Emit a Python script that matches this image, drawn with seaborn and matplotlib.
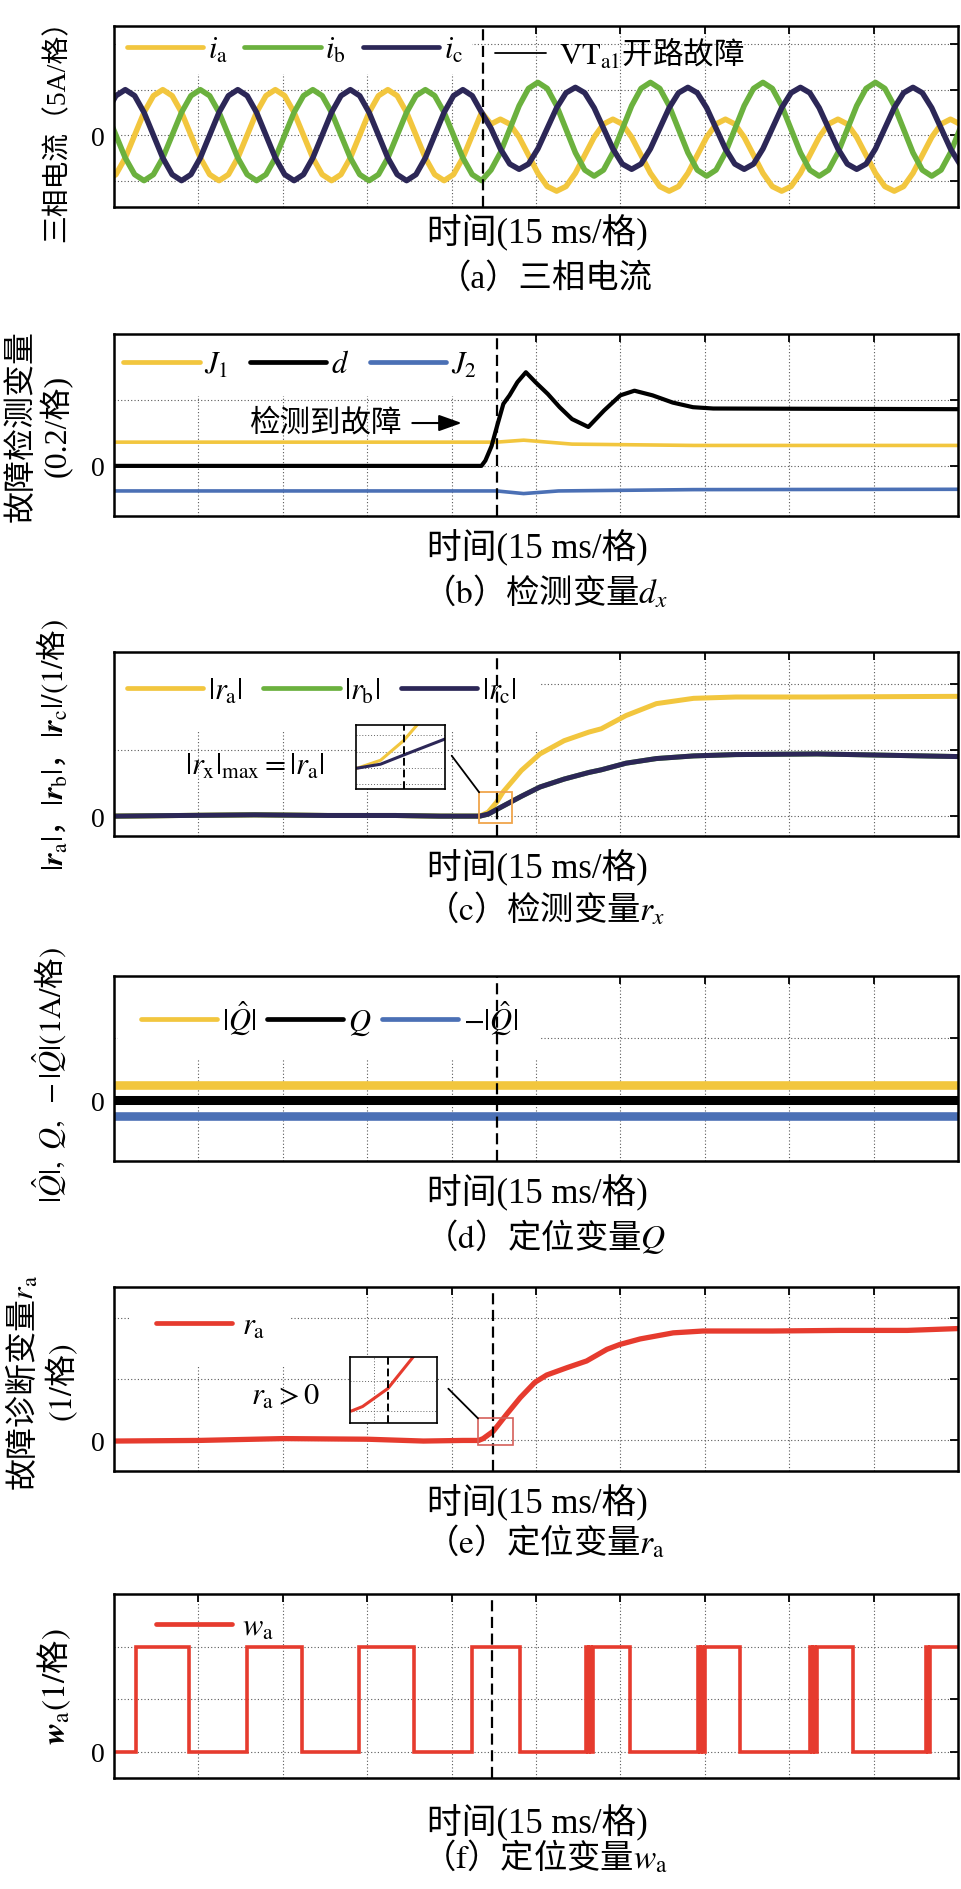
import numpy as np
import matplotlib
matplotlib.use("Agg")
import matplotlib.pyplot as plt
from matplotlib.lines import Line2D
from matplotlib.patches import Rectangle, ConnectionPatch
import seaborn as sns

W, H = 961, 1890

# time axis in ms (15 ms per division, 10 divisions)
T_END = 150
FAULT_T = [65.5, 68.0, 68.0, 68.1, 67.4, 67.1]   # dashed fault line, panels a-f

# (a) three-phase currents in A (5 A/div), read every 1/12 period
T_A = np.linspace(-1.33, 150.33, 92)
IA = [-5,
      -4.33, -2.5, 0, 2.5, 4.33, 5, 4.33, 2.5, 0, -2.5, -4.33, -5,
      -4.33, -2.5, 0, 2.5, 4.33, 5, 4.33, 2.5, 0, -2.5, -4.33, -5,
      -4.33, -2.5, 0, 2.5, 4.33, 5, 4.33, 2.5, 0, -2.5, -4.33, -5,
      -4.33, -2.5, 0, 2.5,
      1.22, 1.75, 1.22, -0.22, -2.2, -4.18, -5.64, -6.15, -5.64, -4.18, -2.2, -0.22,
      1.22, 1.75, 1.22, -0.22, -2.2, -4.18, -5.64, -6.15, -5.64, -4.18, -2.2, -0.22,
      1.22, 1.75, 1.22, -0.22, -2.2, -4.18, -5.64, -6.15, -5.64, -4.18, -2.2, -0.22,
      1.22, 1.75, 1.22, -0.22, -2.2, -4.18, -5.64, -6.15, -5.64, -4.18, -2.2, -0.22,
      1.22, 1.75, 1.22]
IB = [2.5,
      0, -2.5, -4.33, -5, -4.33, -2.5, 0, 2.5, 4.33, 5, 4.33, 2.5,
      0, -2.5, -4.33, -5, -4.33, -2.5, 0, 2.5, 4.33, 5, 4.33, 2.5,
      0, -2.5, -4.33, -5, -4.33, -2.5, 0, 2.5, 4.33, 5, 4.33, 2.5,
      0, -2.5, -4.33, -5,
      -3.83, -1.93, 0.65, 3.23, 5.13, 5.8, 5.13, 3.23, 0.65, -1.93, -3.83, -4.5,
      -3.83, -1.93, 0.65, 3.23, 5.13, 5.8, 5.13, 3.23, 0.65, -1.93, -3.83, -4.5,
      -3.83, -1.93, 0.65, 3.23, 5.13, 5.8, 5.13, 3.23, 0.65, -1.93, -3.83, -4.5,
      -3.83, -1.93, 0.65, 3.23, 5.13, 5.8, 5.13, 3.23, 0.65, -1.93, -3.83, -4.5,
      -3.83, -1.93, 0.65]
IC = [2.5, 4.33,
      5, 4.33, 2.5, 0, -2.5, -4.33, -5, -4.33, -2.5, 0, 2.5, 4.33,
      5, 4.33, 2.5, 0, -2.5, -4.33, -5, -4.33, -2.5, 0, 2.5, 4.33,
      5, 4.33, 2.5, 0, -2.5, -4.33, -5, -4.33, -2.5, 0, 2.5, 4.33,
      5, 4.33, 2.5,
      0.75, -1.5, -3.17, -3.75, -3.17, -1.5, 0.75, 3.0, 4.65, 5.25, 4.65, 3.0,
      0.75, -1.5, -3.17, -3.75, -3.17, -1.5, 0.75, 3.0, 4.65, 5.25, 4.65, 3.0,
      0.75, -1.5, -3.17, -3.75, -3.17, -1.5, 0.75, 3.0, 4.65, 5.25, 4.65, 3.0,
      0.75, -1.5, -3.17, -3.75, -3.17, -1.5, 0.75, 3.0, 4.65, 5.25, 4.65, 3.0,
      0.75, -1.5, -3.17]

# (b) detection variables (0.2 per div)
T_J1 = [0, 68, 72.8, 81.4, 103, 150]
J1 = [0.072, 0.072, 0.078, 0.066, 0.062, 0.062]
T_DX = [0, 30, 60, 65.3, 66.0, 67.1, 68.1, 69.2, 70.3, 71.7, 73.2, 74.9, 77.1,
        79.2, 81.4, 84.3, 87.1, 90.0, 92.5, 95.7, 99.3, 102.9, 106.5, 150]
DX = [0, 0, 0, 0, 0.016, 0.06, 0.122, 0.188, 0.214, 0.254, 0.284, 0.254, 0.218,
      0.178, 0.142, 0.118, 0.168, 0.214, 0.228, 0.214, 0.192, 0.178, 0.174, 0.172]
T_J2 = [0, 68, 72.8, 79, 103, 150]
J2 = [-0.076, -0.076, -0.084, -0.076, -0.072, -0.071]

# (c) |ra|, |rb|, |rc|  (1 per div)
T_C = [0, 12, 25, 38, 50, 58, 65.0, 66.5, 68.0, 69.1, 72.4, 75.7, 80.0, 84.4,
       86.6, 91.0, 96.4, 103.0, 110.5, 125, 150]
RA_C = [0, 0.01, 0.02, 0.01, 0.01, 0.0, 0.0, 0.06, 0.21, 0.36, 0.69, 0.94, 1.14,
        1.27, 1.32, 1.52, 1.70, 1.78, 1.80, 1.80, 1.81]
RB_C = [0, 0.01, 0.02, 0.01, 0.01, 0.0, 0.0, 0.03, 0.10, 0.15, 0.30, 0.44, 0.56,
        0.66, 0.70, 0.80, 0.87, 0.91, 0.93, 0.94, 0.90]
RC_C = [0, 0.01, 0.02, 0.01, 0.01, 0.0, 0.0, 0.03, 0.10, 0.15, 0.30, 0.44, 0.56,
        0.66, 0.70, 0.80, 0.87, 0.91, 0.93, 0.94, 0.90]

# (d) location variable Q and its bounds (1 A per div)
T_Q = [0, 150]
QHAT = [0.24, 0.24]
Q = [0.01, 0.01]
NQHAT = [-0.24, -0.24]

# (e) ra (1 per div)
T_E = [0, 15, 30, 45, 55, 62, 64.8, 65.6, 67.4, 69.8, 72.2, 74.8, 76.9, 80.5,
       84.0, 87.6, 89.9, 93.5, 99.4, 104.7, 117, 129, 141, 150]
RA_E = [-0.01, 0.0, 0.03, 0.02, -0.01, 0.0, 0.0, 0.03, 0.15, 0.43, 0.70, 0.95,
        1.07, 1.19, 1.30, 1.49, 1.57, 1.66, 1.76, 1.79, 1.79, 1.80, 1.80, 1.83]

# (f) wa switching signal (edge times, level after edge)
WA_T = [0, 3.9, 13.3, 23.7, 33.4, 43.6, 53.4, 63.7, 72.2,
        83.9, 84.2, 84.5, 84.8, 85.1, 91.7,
        103.8, 104.1, 104.4, 104.7, 105.0, 111.3,
        123.7, 124.0, 124.3, 124.6, 124.9, 131.3,
        144.4, 144.7, 145.0, 150]
WA_V = [0, 2, 0, 2, 0, 2, 0, 2, 0,
        2, 0, 2, 0, 2, 0,
        2, 0, 2, 0, 2, 0,
        2, 0, 2, 0, 2, 0,
        2, 0, 2, 2]

# zoom boxes (t0, t1, y0, y1)
BOX_C = [64.9, 70.7, -0.11, 0.36]
INSET_C_Y = [-0.16, 0.33]
BOX_E = [64.7, 70.9, -0.08, 0.36]

YEL = "#F2C63E"
GRN = "#6BB13E"
NAVY = "#2C2757"
BLUE = "#4B70B5"
RED = "#E63B2E"
ORANGE = "#F0A54B"
BOXRED = "#D6605A"

sns.set_theme(style="white")
plt.rcParams["font.family"] = ["Liberation Serif", "Noto Sans CJK SC"]
plt.rcParams["mathtext.fontset"] = "stix"
plt.rcParams["axes.unicode_minus"] = False
plt.rcParams["text.color"] = "black"
CJK = "Noto Sans CJK SC"
FS = 22
FS_LAB = 25
EM = FS * 100 / 72   # legend font size in pixels

fig = plt.figure(figsize=(W / 100, H / 100), dpi=100)


def px_box(top, bottom, left=114, right=958):
    return [left / W, 1 - bottom / H, (right - left) / W, (bottom - top) / H]


def fx(x):
    return x / W


def fy(y):
    return 1 - y / H


def style_axes(ax, ylim, yticks):
    ax.set_xlim(0, T_END)
    ax.set_ylim(*ylim)
    ax.set_xticks(np.arange(15, T_END, 15))
    ax.set_xticklabels([])
    ax.set_yticks(yticks)
    ax.set_yticklabels(["0" if v == 0 else "" for v in yticks])
    ax.tick_params(direction="in", length=6, width=1.3, top=True, right=True,
                   colors="black", labelsize=20, pad=7)
    ax.grid(True, linestyle=(0, (1, 2)), color="0.35", linewidth=0.8)
    ax.set_axisbelow(True)
    for sp in ax.spines.values():
        sp.set_color("black")
        sp.set_linewidth(1.8)
    ax.set_xlabel("")
    ax.set_ylabel("")


def fault_line(ax, t, lw=1.6):
    ax.axvline(t, color="black", linestyle=(0, (5, 2.5)), linewidth=lw, zorder=4)


def legend(ax, x0, ncol, drop=0, frame=True, handle_lw=None, **kw):
    # drop: extra pixels between the axes top and the legend row
    width_px = ax.get_position().width * W
    if frame:
        # a taller white box, its left part hidden behind the spine
        pad = 0.3 + drop / EM
        anchor = (x0 - drop / width_px, 1.0)
    else:
        pad = 0.3
        anchor = (x0, 1.0 - drop / (ax.get_position().height * H))
    opts = dict(loc="upper left", bbox_to_anchor=anchor, borderaxespad=0,
                borderpad=pad, ncol=ncol, frameon=frame, fancybox=False,
                facecolor="white", edgecolor="none", framealpha=1,
                fontsize=FS, handlelength=2.5, handletextpad=0.15,
                columnspacing=0.6)
    opts.update(kw)
    leg = ax.legend(**opts)
    # white box hides the grid but stays under the curves
    leg.set_zorder(1.9)
    if handle_lw:
        for h in leg.get_lines():
            h.set_linewidth(handle_lw)
    return leg


def captions(y_xlabel, y_caption, caption, cjk_math=False):
    fig.text(fx(537), fy(y_xlabel), "时间(15 ms/格)", ha="center", va="center",
             fontsize=FS_LAB)
    kw = {"family": CJK} if cjk_math else {}
    fig.text(fx(545), fy(y_caption), caption, ha="center", va="center",
             fontsize=FS_LAB - 1, **kw)


def ylabel(x, y, text, size, cjk_math=False, **kw):
    if cjk_math:
        kw["family"] = CJK
    fig.text(fx(x), fy(y), text, rotation=90, ha="center", va="center",
             fontsize=size, multialignment="center", **kw)


def inset(ax, box_px, xlim, ylim, fault_t, series, yticks, xticks=()):
    ins = fig.add_axes(px_box(*box_px))
    for t, v, col in series:
        sns.lineplot(x=t, y=v, ax=ins, color=col, linewidth=2.2)
    ins.set_xlim(*xlim)
    ins.set_ylim(*ylim)
    ins.set_xticks(list(xticks))
    ins.set_yticks(yticks)
    ins.set_xticklabels([])
    ins.set_yticklabels([])
    ins.tick_params(length=0)
    ins.grid(True, linestyle=(0, (1, 2)), color="0.4", linewidth=0.7)
    ins.set_axisbelow(True)
    ins.axvline(fault_t, color="black", linestyle=(0, (4, 2)), linewidth=1.4)
    for sp in ins.spines.values():
        sp.set_color("black")
        sp.set_linewidth(1.2)
    ins.set_xlabel("")
    ins.set_ylabel("")
    return ins


# ---------------- (a) ----------------
ax = fig.add_axes(px_box(27, 208))
sns.lineplot(x=T_A, y=IA, ax=ax, color=YEL, linewidth=4.0, label=r"$i_\mathrm{a}$")
sns.lineplot(x=T_A, y=IB, ax=ax, color=GRN, linewidth=4.0, label=r"$i_\mathrm{b}$")
sns.lineplot(x=T_A, y=IC, ax=ax, color=NAVY, linewidth=4.0, label=r"$i_\mathrm{c}$")
style_axes(ax, (-7.9, 12.0), [-5, 0, 5, 10])
fault_line(ax, FAULT_T[0])
leg1 = legend(ax, 0.004, 3, columnspacing=0.55, handle_lw=3.4)
ax.add_artist(leg1)
proxy = Line2D([], [], color="black", linewidth=1.3)
leg2 = ax.legend(handles=[proxy], labels=[r"$\mathrm{VT_{a1}}$开路故障"],
                 loc="upper left", bbox_to_anchor=(0.44, 1.0), borderaxespad=0,
                 borderpad=0.3, frameon=False, prop={"family": CJK, "size": FS},
                 handlelength=1.7, handletextpad=0.4)
leg2.set_zorder(3)
ylabel(57, 124, "三相电流（5A/格）", 20)
captions(233, 279, "（a）三相电流")

# ---------------- (b) ----------------
ax = fig.add_axes(px_box(335, 517))
sns.lineplot(x=T_J1, y=J1, ax=ax, color=YEL, linewidth=2.6, label=r"$J_1$")
sns.lineplot(x=T_DX, y=DX, ax=ax, color="black", linewidth=3.0, label=r"$d$")
sns.lineplot(x=T_J2, y=J2, ax=ax, color=BLUE, linewidth=2.6, label=r"$J_2$")
style_axes(ax, (-0.152, 0.40), [0, 0.2])
fault_line(ax, FAULT_T[1])
legend(ax, 0.0, 3, drop=7, columnspacing=0.7, handle_lw=3.4)
ax.annotate("检测到故障", xy=(61.8, 0.13), xytext=(51.2, 0.13), ha="right",
            va="center", fontsize=FS,
            arrowprops=dict(arrowstyle="-|>,head_length=0.7,head_width=0.25",
                            color="black", lw=1.5, shrinkA=5, shrinkB=0,
                            mutation_scale=20))
ylabel(40, 426, "故障检测变量\n(0.2/格)", 23, linespacing=1.1)
captions(548, 593, r"（$\mathrm{b}$）检测变量$d_x$", cjk_math=True)

# ---------------- (c) ----------------
ax = fig.add_axes(px_box(653, 837))
sns.lineplot(x=T_C, y=RA_C, ax=ax, color=YEL, linewidth=3.6, label=r"$|r_\mathrm{a}|$")
sns.lineplot(x=T_C, y=RB_C, ax=ax, color=GRN, linewidth=3.6, label=r"$|r_\mathrm{b}|$")
sns.lineplot(x=T_C, y=RC_C, ax=ax, color=NAVY, linewidth=3.6, label=r"$|r_\mathrm{c}|$")
style_axes(ax, (-0.3, 2.48), [0, 1, 2])
fault_line(ax, FAULT_T[2])
legend(ax, 0.004, 3, drop=15, columnspacing=0.68, handle_lw=3.4)
ax.text(12.6, 0.76, r"$|r_\mathrm{x}|_\mathrm{max}=|r_\mathrm{a}|$", fontsize=FS,
        ha="left", va="center")
ax.add_patch(Rectangle((BOX_C[0], BOX_C[2]), BOX_C[1] - BOX_C[0], BOX_C[3] - BOX_C[2],
                       fill=False, edgecolor=ORANGE, linewidth=1.3, zorder=5))
ins = inset(ax, (726, 790, 356, 445), BOX_C[:2], INSET_C_Y, FAULT_T[2],
            [(T_C, RA_C, YEL), (T_C, RC_C, NAVY)], [-0.125, 0, 0.125, 0.25])
fig.add_artist(ConnectionPatch(xyA=(1.075, 0.52), coordsA=ins.transAxes,
                               xyB=(BOX_C[0], BOX_C[3]), coordsB=ax.transData,
                               color="black", linewidth=1.3))
ylabel(52, 745, r"$|\boldsymbol{r}_\mathrm{a}|$，$|\boldsymbol{r}_\mathrm{b}|$，"
       r"$|\boldsymbol{r}_\mathrm{c}|/(\mathrm{1}/$格$)$", 22, cjk_math=True)
captions(868, 910, r"（$\mathrm{c}$）检测变量$r_x$", cjk_math=True)

# ---------------- (d) ----------------
ax = fig.add_axes(px_box(977, 1162))
sns.lineplot(x=T_Q, y=QHAT, ax=ax, color=YEL, linewidth=6.2, label=r"$|\hat{Q}|$")
sns.lineplot(x=T_Q, y=Q, ax=ax, color="black", linewidth=6.5, label=r"$Q$")
sns.lineplot(x=T_Q, y=NQHAT, ax=ax, color=BLUE, linewidth=6.2, label=r"$-|\hat{Q}|$")
style_axes(ax, (-0.96, 1.98), [0, 1])
fault_line(ax, FAULT_T[3])
legend(ax, 0.021, 3, drop=14, columnspacing=0.35, handle_lw=3.4)
ylabel(50, 1075, r"$|\hat{Q}|,\ Q,\ -|\hat{Q}|(\mathrm{1A}/$格$)$", 22, cjk_math=True)
captions(1193, 1236, r"（$\mathrm{d}$）定位变量$Q$", cjk_math=True)

# ---------------- (e) ----------------
ax = fig.add_axes(px_box(1288, 1472))
sns.lineplot(x=T_E, y=RA_E, ax=ax, color=RED, linewidth=3.8, label=r"$r_\mathrm{a}$")
style_axes(ax, (-0.5, 2.51), [0, 1, 2])
fault_line(ax, FAULT_T[4])
legend(ax, 0.039, 1, drop=16, handletextpad=0.3, handle_lw=3.4)
ax.text(24.3, 0.72, r"$r_\mathrm{a}>0$", fontsize=FS, ha="left", va="center")
ax.add_patch(Rectangle((BOX_E[0], BOX_E[2]), BOX_E[1] - BOX_E[0], BOX_E[3] - BOX_E[2],
                       fill=False, edgecolor=BOXRED, linewidth=1.2, zorder=5))
ins = inset(ax, (1358, 1424, 350, 437), BOX_E[:2], BOX_E[2:], FAULT_T[4],
            [(T_E, RA_E, RED)], [0, 0.2], xticks=[66.4])
fig.add_artist(ConnectionPatch(xyA=(1.13, 0.52), coordsA=ins.transAxes,
                               xyB=(BOX_E[0], BOX_E[3]), coordsB=ax.transData,
                               color="black", linewidth=1.3))
ylabel(42, 1383, "故障诊断变量$r_\\mathrm{a}$\n$(\\mathrm{1}/$格$)$", 23,
       cjk_math=True, linespacing=1.1)
captions(1503, 1543, r"（$\mathrm{e}$）定位变量$r_\mathrm{a}$", cjk_math=True)

# ---------------- (f) ----------------
ax = fig.add_axes(px_box(1595, 1779))
sns.lineplot(x=WA_T, y=WA_V, ax=ax, color=RED, linewidth=2.6, drawstyle="steps-post",
             solid_joinstyle="miter", label=r"$w_\mathrm{a}$")
style_axes(ax, (-0.5, 3.0), [0, 1, 2])
fault_line(ax, FAULT_T[5])
legend(ax, 0.039, 1, drop=10, frame=False, handletextpad=0.3, handle_lw=3.4)
ylabel(54, 1687, r"$\boldsymbol{w}_\mathrm{a}(\mathrm{1}/$格$)$", 24, cjk_math=True)
captions(1823, 1858, r"（$\mathrm{f}$）定位变量$w_\mathrm{a}$", cjk_math=True)

fig.savefig("out.png", dpi=100)
